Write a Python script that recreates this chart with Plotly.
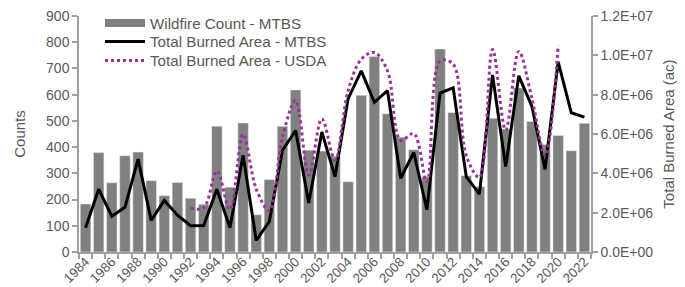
import plotly.graph_objects as go

years = list(range(1984, 2023))
counts = [183, 379, 264, 367, 381, 272, 215, 265, 205, 182,
          480, 247, 492, 142, 276, 480, 618, 388, 385, 365,
          268, 598, 746, 527, 438, 390, 287, 774, 532, 291,
          249, 510, 469, 625, 498, 410, 444, 386, 491]
area_mtbs = [1.23e6, 3.19e6, 1.82e6, 2.27e6, 4.72e6, 1.61e6, 2.62e6, 1.87e6, 1.34e6, 1.35e6,
             3.19e6, 1.23e6, 4.92e6, 0.59e6, 1.55e6, 5.17e6, 6.18e6, 2.49e6, 6.10e6, 3.83e6,
             7.80e6, 9.21e6, 7.61e6, 8.20e6, 3.75e6, 5.06e6, 2.15e6, 8.08e6, 8.35e6, 3.83e6,
             2.94e6, 9.00e6, 4.34e6, 8.96e6, 7.40e6, 4.20e6, 9.67e6, 7.08e6, 6.86e6]
years_usda = list(range(1992, 2021))
area_usda = [2.23e6, 2.25e6, 4.12e6, 2.15e6, 5.98e6, 3.20e6, 2.10e6, 5.85e6, 7.70e6, 3.91e6,
             6.77e6, 4.67e6, 8.20e6, 9.80e6, 10.14e6, 9.21e6, 5.68e6, 6.02e6, 3.58e6, 9.71e6,
             9.55e6, 4.90e6, 3.80e6, 10.30e6, 6.20e6, 10.20e6, 7.80e6, 4.90e6, 10.50e6]

left_ticks = list(range(0, 901, 100))
right_ticks = [0, 2e6, 4e6, 6e6, 8e6, 10e6, 12e6]
right_labels = [f"{v:.1E}" for v in right_ticks]
label_years = [y for y in years if y % 2 == 0]

GRAY = "#808080"
AX = "#a0a0a0"
TXT = "#595959"
PURPLE = "#993399"
FONT = "Liberation Sans, Arial, sans-serif"
XTICKSZ = 13.3
YTICKSZ = 14

fig = go.Figure()
fig.add_trace(go.Bar(x=years, y=counts, marker_color=GRAY, name="Wildfire Count - MTBS",
                     showlegend=False, yaxis="y"))
fig.add_trace(go.Scatter(x=years[:1], y=counts[:1], mode="lines", name="Wildfire Count - MTBS",
                         line=dict(color=GRAY, width=8), hoverinfo="skip", legend="legend"))
fig.add_trace(go.Scatter(x=years, y=area_mtbs, mode="lines", name="Total Burned Area - MTBS",
                         line=dict(color="black", width=3), yaxis="y2", legend="legend2"))
fig.add_trace(go.Scatter(x=years_usda, y=area_usda, mode="lines", name="Total Burned Area - USDA",
                         line=dict(color=PURPLE, width=3, dash="dot", shape="spline", smoothing=1),
                         yaxis="y2", legend="legend3"))


def leg(row_px):
    return dict(x=0.041, y=1 - row_px / 287, xanchor="left", yanchor="middle",
                yref="container", bgcolor="rgba(0,0,0,0)",
                font=dict(size=15.2, color=TXT), itemwidth=40)


fig.update_layout(
    width=685, height=287,
    margin=dict(l=71, r=102, t=8, b=43, autoexpand=False),
    plot_bgcolor="white", paper_bgcolor="white",
    font=dict(family=FONT, color=TXT, size=13),
    bargap=0.2,
    showlegend=True,
    legend=leg(15),
    legend2=leg(33.5),
    legend3=leg(52.5),
    xaxis=dict(range=[1983.5, 2022.5], tickmode="array", tickvals=label_years,
               ticktext=[str(y) for y in label_years], tickangle=-45, ticks="",
               ticklabelstandoff=-5, automargin=False, ticklabeloverflow="allow",
               showline=True, linecolor=AX, linewidth=1.5, showgrid=False, zeroline=False,
               tickfont=dict(size=XTICKSZ, color=TXT),
               minor=dict(tickmode="linear", tick0=1983.5, dtick=1, ticks="outside",
                          ticklen=5, tickcolor=AX, tickwidth=1.5, showgrid=False)),
    yaxis=dict(range=[0, 900], tickvals=left_ticks, ticks="outside", ticklen=5,
               tickcolor=AX, tickwidth=1.5, showline=True, linecolor=AX, linewidth=1.5,
               showgrid=False, zeroline=False, tickfont=dict(size=YTICKSZ, color=TXT),
               automargin=False, ticklabeloverflow="allow",
               title=dict(text="Counts", font=dict(size=15, color=TXT), standoff=17)),
    yaxis2=dict(range=[0, 1.2e7], overlaying="y", side="right", tickmode="array",
                tickvals=right_ticks, ticktext=right_labels, ticks="outside", ticklen=5,
                tickcolor=AX, tickwidth=1.5, showline=True, linecolor=AX, linewidth=1.5,
                showgrid=False, zeroline=False, tickfont=dict(size=YTICKSZ, color=TXT),
                automargin=False, ticklabeloverflow="allow",
                title=dict(text="Total Burned Area (ac)", font=dict(size=15, color=TXT), standoff=11)),
)

fig.write_html("out.html")
